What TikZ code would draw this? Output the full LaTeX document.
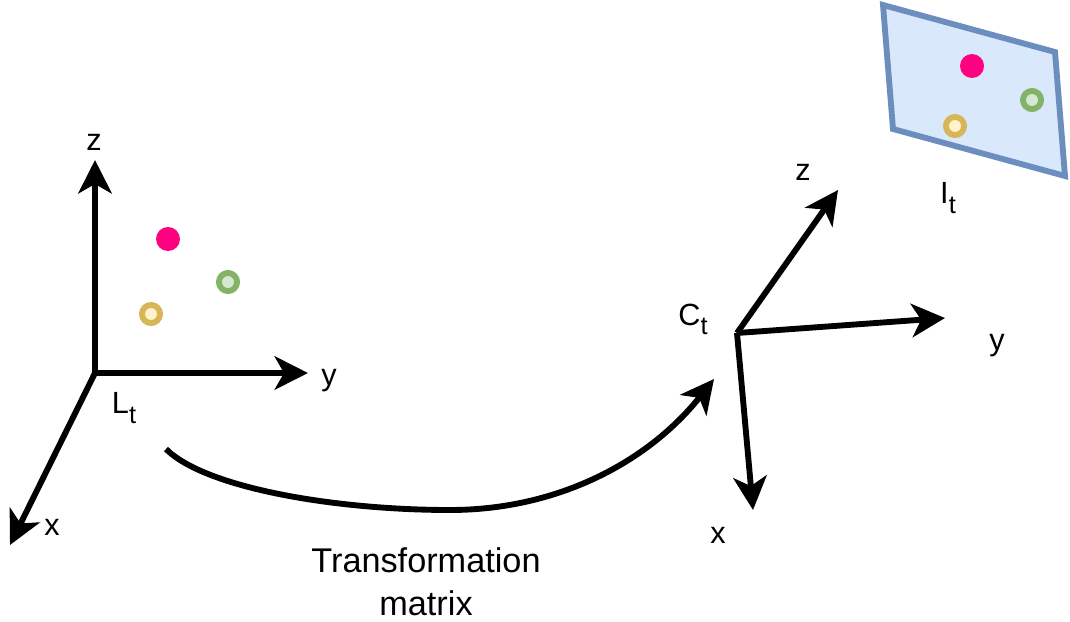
\documentclass[tikz,border=0pt]{standalone}
\usepackage{fontspec}
\setmainfont{Liberation Sans}
\usetikzlibrary{arrows.meta}
\definecolor{planefill}{HTML}{DAE8FC}
\definecolor{planeline}{HTML}{6C8EBF}
\definecolor{pinkdot}{HTML}{FF0080}
\definecolor{greenline}{HTML}{82B366}
\definecolor{greenfill}{HTML}{D5E8D4}
\definecolor{goldline}{HTML}{D6B656}
\definecolor{goldfill}{HTML}{FFF2CC}
\newcommand{\subt}{\raisebox{-0.3em}{\fontsize{19}{20}\selectfont t}}
\tikzset{
  axis/.style={line width=4.4pt,-{Stealth[length=25pt,width=25pt,inset=7pt]}},
  lbl/.style={font=\fontsize{23}{26}\selectfont,inner sep=0pt},
  pinkpt/.style={circle,fill=pinkdot,inner sep=0pt,minimum size=18pt},
  greenpt/.style={circle,draw=greenline,fill=greenfill,line width=4.4pt,inner sep=0pt,minimum size=13.6pt,outer sep=0pt},
  goldpt/.style={circle,draw=goldline,fill=goldfill,line width=4.4pt,inner sep=0pt,minimum size=13.6pt,outer sep=0pt}
}
\begin{document}
\begin{tikzpicture}[x=0.75pt,y=-0.75pt]
  \useasboundingbox (0,0) rectangle (1070,621);
  % lidar frame
  \coordinate (lorigin) at (95,373);
  \coordinate (lz) at (95,160);
  \coordinate (ly) at (308,373);
  \coordinate (lx) at (10,545);
  \draw[axis] (lorigin) -- (lz);
  \draw[axis] (lorigin) -- (ly);
  \draw[axis] (lorigin) -- (lx);
  \node[lbl] (lzlabel) at (94,142) {z};
  \node[lbl] (lylabel) at (329,381) {y};
  \node[lbl] (lxlabel) at (52,527) {x};
  \node[lbl] (llabel) at (124,408) {L\subt};
  \node[pinkpt] (lpink) at (168,239) {};
  \node[greenpt] (lgreen) at (228,282) {};
  \node[goldpt] (lgold) at (151,314) {};
  % camera frame
  \coordinate (corigin) at (737,333);
  \coordinate (cz) at (838,190);
  \coordinate (cy) at (945,318);
  \coordinate (cx) at (753,510);
  \draw[axis] (corigin) -- (cz);
  \draw[axis] (corigin) -- (cy);
  \draw[axis] (corigin) -- (cx);
  \node[lbl] (czlabel) at (803,172) {z};
  \node[lbl] (cylabel) at (997,346) {y};
  \node[lbl] (cxlabel) at (718,535) {x};
  \node[lbl] (clabel) at (693,319) {C\subt};
  % image plane
  \coordinate (pa) at (883,5);
  \coordinate (pb) at (1055,52);
  \coordinate (pc) at (1065,176);
  \coordinate (pd) at (893,129);
  \draw[planeline,fill=planefill,line width=4.4pt] (pa) -- (pb) -- (pc) -- (pd) -- cycle;
  \node[pinkpt] (ipink) at (972,66) {};
  \node[greenpt] (igreen) at (1032,100) {};
  \node[goldpt] (igold) at (955,126) {};
  \node[lbl] (ilabel) at (948,198) {I\subt};
  % transformation
  \coordinate (tstart) at (166,449);
  \coordinate (tend) at (714,379);
  \draw[axis] (tstart) .. controls (205,488) and (335,510) .. (450,510)
    .. controls (560,510) and (650,460) .. (tend);
  \node[font=\fontsize{25.7}{32}\selectfont,align=center,inner sep=0pt] (tlabel) at (426,582) {Transformation\\matrix};
\end{tikzpicture}
\end{document}
